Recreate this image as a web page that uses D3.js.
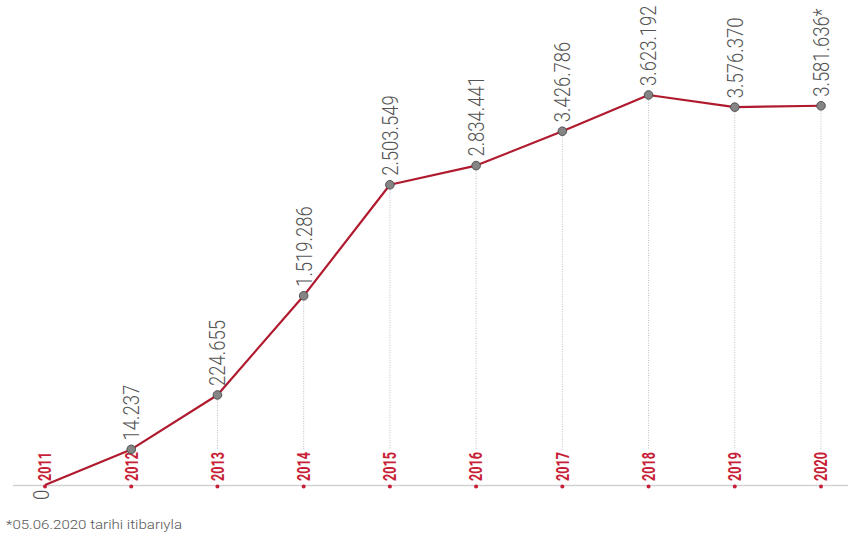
<!DOCTYPE html>
<html>
<head>
<meta charset="utf-8">
<script src="https://cdn.jsdelivr.net/npm/d3@7"></script>
<style>
  html, body { margin: 0; padding: 0; background: #ffffff; }
  svg { display: block; }
</style>
</head>
<body>
<svg id="chart" width="848" height="540"></svg>
<script>
// ---- data ----
const years = [2011, 2012, 2013, 2014, 2015, 2016, 2017, 2018, 2019, 2020];
const values = [0, 14237, 224655, 1519286, 2503549, 2834441, 3426786, 3623192, 3576370, 3581636];
const valueNotes = ["", "", "", "", "", "", "", "", "", "*"];
const footnote = "*05.06.2020 tarihi itibarıyla";

const data = years.map((yr, i) => ({ year: yr, value: values[i], note: valueNotes[i] }));

// ---- layout ----
const W = 848, H = 540;
const baseY = 485;
const svg = d3.select("#chart");
svg.append("rect").attr("width", W).attr("height", H).attr("fill", "#ffffff");

const x = d3.scalePoint().domain(years).range([45, 821]);
// compressed (broken) value axis, as in the infographic
const y = d3.scaleLinear()
  .domain([0, 20000, 250000, 1500000, 2500000, 3500000, 3700000])
  .range([baseY, 435, 390, 298, 185, 127, 75]);

const loc = d3.formatLocale({ decimal: ",", thousands: ".", grouping: [3], currency: ["", ""] });
const fmt = loc.format(",d");

const red = "#c81f38";
const lineRed = "#b01a2e";

// baseline
svg.append("line")
  .attr("x1", 13).attr("x2", W).attr("y1", baseY + 0.5).attr("y2", baseY + 0.5)
  .attr("stroke", "#d2d2d2").attr("stroke-width", 1.5);

// dotted guides
svg.append("g").selectAll("line")
  .data(data.filter(d => y(d.value) < 440))
  .join("line")
  .attr("x1", d => x(d.year)).attr("x2", d => x(d.year))
  .attr("y1", d => y(d.value) + 5).attr("y2", 450)
  .attr("stroke", "#bdbdbd").attr("stroke-width", 1)
  .attr("stroke-dasharray", "1,1.5");

// year labels
const yl = svg.append("g");
yl.selectAll("circle")
  .data(data).join("circle")
  .attr("cx", d => x(d.year)).attr("cy", baseY + 1.5).attr("r", 2)
  .attr("fill", red);
yl.selectAll("text")
  .data(data).join("text")
  .attr("transform", d => `translate(${x(d.year)},${baseY - 4}) rotate(-90) scale(0.72,1)`)
  .attr("dy", "0.36em")
  .attr("text-anchor", "start")
  .attr("font-family", "Roboto, 'Liberation Sans', sans-serif")
  .attr("font-weight", 700)
  .attr("font-size", 17.5)
  .attr("fill", red)
  .text(d => d.year);

// line
svg.append("path")
  .datum(data)
  .attr("d", d3.line().x(d => x(d.year)).y(d => y(d.value)))
  .attr("fill", "none")
  .attr("stroke", lineRed)
  .attr("stroke-width", 2.2)
  .attr("stroke-linejoin", "round");

// points
svg.append("g").selectAll("circle")
  .data(data.filter(d => d.value > 0))
  .join("circle")
  .attr("cx", d => x(d.year)).attr("cy", d => y(d.value)).attr("r", 4.3)
  .attr("fill", "#858585").attr("stroke", "#505050").attr("stroke-width", 1);

// value labels
svg.append("g").selectAll("text")
  .data(data).join("text")
  .attr("transform", d => {
    const ty = d.value > 0 ? y(d.value) - 9 : y(d.value) + 15;
    const tx = d.value > 0 ? x(d.year) : x(d.year) - 4;
    return `translate(${tx},${ty}) rotate(-90) scale(0.84,1)`;
  })
  .attr("dy", "0.36em")
  .attr("text-anchor", "start")
  .attr("font-family", "Roboto, 'Liberation Sans', sans-serif")
  .attr("font-weight", 300)
  .attr("font-size", 22)
  .attr("fill", "#555555")
  .text(d => fmt(d.value) + d.note);

// footnote
svg.append("text")
  .attr("x", 6).attr("y", 529)
  .attr("font-family", "Roboto, 'Liberation Sans', sans-serif")
  .attr("font-weight", 300)
  .attr("font-size", 12)
  .attr("fill", "#555555")
  .attr("textLength", 176)
  .attr("lengthAdjust", "spacingAndGlyphs")
  .text(footnote);
</script>
</body>
</html>
